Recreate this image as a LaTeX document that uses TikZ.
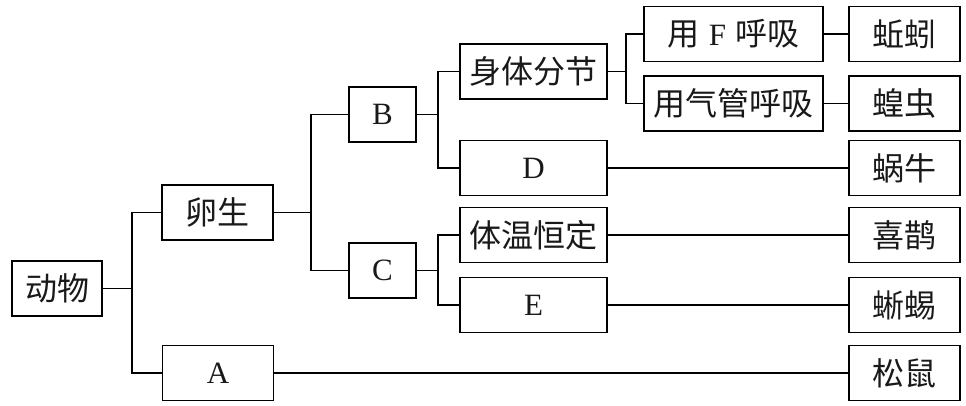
\documentclass[tikz,border=0pt]{standalone}
\usepackage{fontspec}
\setmainfont{Liberation Serif}
\newfontfamily\cjkf{Noto Sans CJK SC}
\newcommand{\cjk}{\cjkf\fontsize{32}{32}\selectfont}
\begin{document}
\begin{tikzpicture}[x=1pt,y=-1pt,
  bx/.style={draw, line width=1.7pt, inner sep=0pt, minimum height=55pt, anchor=center,
    font=\fontsize{31}{31}\selectfont, text=black!90},
  conn/.style={line width=1.7pt},
  w1/.style={minimum width=90pt},
  w2/.style={minimum width=111pt},
  w3/.style={minimum width=67pt},
  w4/.style={minimum width=147pt},
  w5/.style={minimum width=179pt}]
\useasboundingbox (0,0) rectangle (966,406);
% column 1
\node[bx,w1] (dongwu) at (57,288.5) {\cjk 动物};
% column 2
\node[bx,w2] (luan) at (217.5,212.5) {\cjk 卵生};
\node[bx,w2] (A) at (218,373) {A};
% column 3
\node[bx,w3] (B) at (382.5,114.5) {B};
\node[bx,w3] (C) at (382.5,270.5) {C};
% column 4
\node[bx,w4] (shenti) at (533.5,71.5) {\cjk 身体分节};
\node[bx,w4] (D) at (533.5,168) {D};
\node[bx,w4] (tiwen) at (533.5,235) {\cjk 体温恒定};
\node[bx,w4] (E) at (533.5,305) {E};
% column 5
\node[bx,w5] (yongF) at (733.5,34) {{\cjk 用}\hspace{9pt}F\hspace{9pt}{\cjk 呼吸}};
\node[bx,w5] (yongqi) at (733.5,103.5) {\cjk 用气管呼吸};
% column 6
\node[bx,w2] (qiuyin) at (904.5,34) {\cjk 蚯蚓};
\node[bx,w2] (huang) at (904.5,103.5) {\cjk 蝗虫};
\node[bx,w2] (woniu) at (904.5,168) {\cjk 蜗牛};
\node[bx,w2] (xique) at (904.5,235) {\cjk 喜鹊};
\node[bx,w2] (xiyi) at (904.5,305) {\cjk 蜥蜴};
\node[bx,w2] (songshu) at (904.5,373) {\cjk 松鼠};
% junctions
\coordinate (j1) at (132,288.5);
\coordinate (j2) at (311,212.5);
\coordinate (j3) at (438,114.5);
\coordinate (j4) at (438,270.5);
\coordinate (j5) at (626,71.5);
% connectors
\draw[conn] (dongwu.east) -- (j1);
\draw[conn] (luan.west) -| (j1);
\draw[conn] (A.west) -| (j1);
\draw[conn] (luan.east) -- (j2);
\draw[conn] (B.west) -| (j2);
\draw[conn] (C.west) -| (j2);
\draw[conn] (B.east) -- (j3);
\draw[conn] (shenti.west) -| (j3);
\draw[conn] (D.west) -| (j3);
\draw[conn] (C.east) -- (j4);
\draw[conn] (tiwen.west) -| (j4);
\draw[conn] (E.west) -| (j4);
\draw[conn] (shenti.east) -- (j5);
\draw[conn] (yongF.west) -| (j5);
\draw[conn] (yongqi.west) -| (j5);
\draw[conn] (yongF) -- (qiuyin);
\draw[conn] (yongqi) -- (huang);
\draw[conn] (D) -- (woniu);
\draw[conn] (tiwen) -- (xique);
\draw[conn] (E) -- (xiyi);
\draw[conn] (A) -- (songshu);
\end{tikzpicture}
\end{document}
